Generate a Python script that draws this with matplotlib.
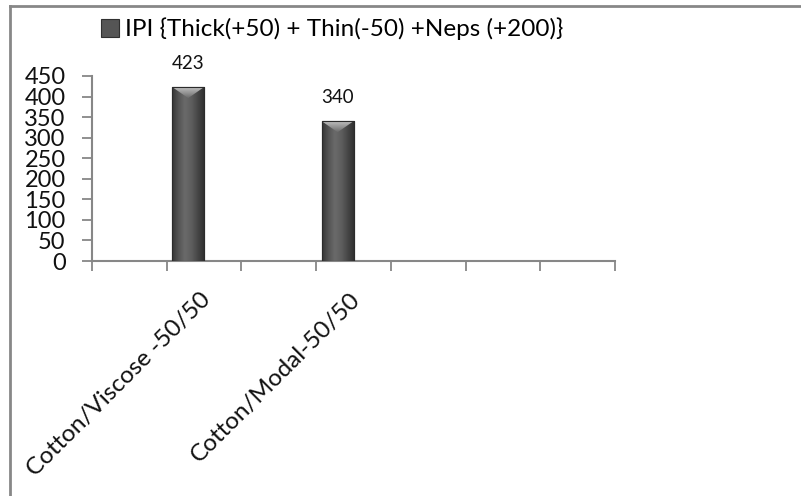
import numpy as np
import matplotlib
matplotlib.use('Agg')
import matplotlib.pyplot as plt
from matplotlib.colors import LinearSegmentedColormap
from matplotlib.lines import Line2D
from matplotlib.patches import Polygon
from matplotlib.transforms import ScaledTranslation

plt.rcParams['font.family'] = ['Lato', 'DejaVu Sans']

# IPI values per blend; the other category slots are left empty
categories = ['', 'Cotton/Viscose -50/50', '', 'Cotton/Modal-50/50', '', '', '']
ipi_values = [np.nan, 423, np.nan, 340, np.nan, np.nan, np.nan]
series_name = 'IPI {Thick(+50) + Thin(-50) +Neps (+200)}'
y_ticks = [0, 50, 100, 150, 200, 250, 300, 350, 400, 450]

axis_grey = '#878787'

fig = plt.figure(figsize=(8.01, 4.96), dpi=100)
ax = fig.add_axes([92 / 801, 235 / 496, 523 / 801, 185 / 496])

x = np.arange(len(categories))
bar_w = 0.425
bars = ax.bar(x - bar_w / 2, ipi_values, width=bar_w, color='#555555',
              edgecolor='#303030', linewidth=0.8, label=series_name, zorder=3)

ax.set_xlim(-0.5, len(categories) - 0.5)
ax.set_ylim(0, 450)

# shaded body and bevelled top for each bar
body_cmap = LinearSegmentedColormap.from_list(
    'body', ['#363636', '#545454', '#6a6a6a', '#5f5f5f', '#484848', '#313131'])
top_cmap = LinearSegmentedColormap.from_list('top', ['#6c6c6c', '#c0c0c0'])
grad = np.linspace(0, 1, 64).reshape(1, -1)
px_per_unit = 185 / 450
for rect, val in zip(bars.patches, ipi_values):
    if np.isnan(val):
        continue
    x0, w, h = rect.get_x(), rect.get_width(), rect.get_height()
    im = ax.imshow(grad, extent=[x0, x0 + w, 0, h], aspect='auto',
                   cmap=body_cmap, zorder=3.1, interpolation='bicubic')
    im.set_clip_path(rect)
    depth = 11 / px_per_unit
    tri = Polygon([[x0, h], [x0 + w, h], [x0 + w / 2, h - depth]],
                  closed=True, facecolor='none', edgecolor='none')
    ax.add_patch(tri)
    vgrad = np.linspace(0, 1, 32).reshape(-1, 1)
    im2 = ax.imshow(vgrad, extent=[x0, x0 + w, h - depth, h], aspect='auto',
                    cmap=top_cmap, origin='lower', zorder=3.2,
                    interpolation='bicubic')
    im2.set_clip_path(tri)
    edge = plt.Rectangle((x0, 0), w, h, facecolor='none', edgecolor='#2b2b2b',
                         linewidth=0.8, zorder=3.3)
    ax.add_patch(edge)

ax.set_xlim(-0.5, len(categories) - 0.5)
ax.set_ylim(0, 450)

ax.bar_label(bars, labels=[f'{v:.0f}' if not np.isnan(v) else '' for v in ipi_values],
             padding=11, fontsize=13.5, color='#111111')

# axes styling
for side in ['top', 'right']:
    ax.spines[side].set_visible(False)
for side in ['left', 'bottom']:
    ax.spines[side].set_color(axis_grey)
    ax.spines[side].set_linewidth(1.5)

ax.set_yticks(y_ticks)
ax.set_yticklabels([str(t) for t in y_ticks], fontsize=17, color='#111111')
ax.tick_params(axis='y', length=7, width=1.3, color=axis_grey, pad=12)

ax.set_xticks(x)
ax.set_xticklabels(categories, rotation=45, ha='right', rotation_mode='anchor',
                   fontsize=17.5, color='#111111')
ax.tick_params(axis='x', which='major', length=0, pad=20)
shift = ScaledTranslation(-4 / 100, 0, fig.dpi_scale_trans)
for lbl in ax.get_xticklabels():
    lbl.set_transform(lbl.get_transform() + shift)
ax.set_xticks(np.arange(-0.5, len(categories)), minor=True)
ax.tick_params(axis='x', which='minor', length=7, width=1.3, color=axis_grey)

ax.legend(loc='center left', bbox_to_anchor=(101 / 801, 1 - 29 / 496),
          bbox_transform=fig.transFigure, frameon=False, fontsize=17.5,
          handlelength=0.75, handleheight=0.75, handletextpad=0.25,
          borderaxespad=0, borderpad=0)

# chart area border (left and top edges)
fig.add_artist(Line2D([9.5 / 801, 9.5 / 801], [0, 1 - 5.5 / 496],
                      color=axis_grey, linewidth=2))
fig.add_artist(Line2D([9.5 / 801, 1], [1 - 5.5 / 496, 1 - 5.5 / 496],
                      color=axis_grey, linewidth=2))

fig.savefig('out.png', dpi=100)
